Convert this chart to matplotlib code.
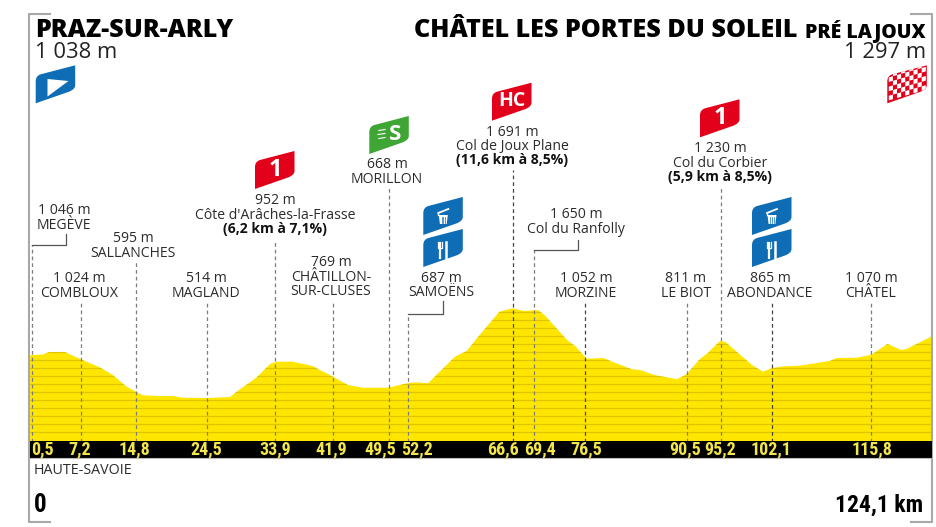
import numpy as np
import matplotlib
matplotlib.use("Agg")
import matplotlib.pyplot as plt
import matplotlib.font_manager as fm
from matplotlib.patches import PathPatch, Polygon, Rectangle
from matplotlib.path import Path

# ---------- data ----------
PROFILE_KM = [0.0, 0.3, 2.0, 2.9, 5.0, 7.1, 9.8, 11.6, 13.5, 14.6, 15.7, 18.0, 19.8, 21.2, 24.4, 27.7,
              28.6, 31.3, 33.2, 34.1, 36.3, 39.1, 40.0, 41.6, 43.9, 45.9, 49.4, 52.1, 53.1, 54.9, 55.8,
              58.6, 60.2, 61.6, 64.7, 66.5, 68.0, 70.0, 70.9, 74.0, 75.1, 76.7, 79.0, 80.3, 82.9, 84.0,
              86.0, 89.1, 90.4, 92.2, 93.3, 95.0, 95.7, 99.4, 100.9, 102.1, 103.6, 105.9, 110.1, 111.0,
              113.8, 115.8, 118.0, 119.9, 120.6, 124.1]
PROFILE_ALT = [1060, 1062, 1072, 1105, 1105, 1012, 902, 800, 646, 589, 532, 523, 523, 500, 496, 509,
               579, 765, 946, 976, 976, 919, 867, 791, 668, 632, 632, 691, 704, 691, 778,
               1043, 1118, 1286, 1638, 1683, 1647, 1660, 1594, 1263, 1184, 1016, 1025, 972, 876, 867,
               800, 744, 810, 1008, 1091, 1250, 1241, 933, 844, 889, 915, 923, 986, 1025,
               1029, 1069, 1211, 1131, 1144, 1312]
STOP_KM = [0.5, 7.2, 14.8, 24.5, 33.9, 41.9, 49.5, 52.2, 66.6, 69.4, 76.5, 90.5, 95.2, 102.1, 115.8]
STOP_KM_LABEL = ["0,5", "7,2", "14,8", "24,5", "33,9", "41,9", "49,5", "52,2", "66,6", "69,4", "76,5",
                 "90,5", "95,2", "102,1", "115,8"]
STOP_TEXT = [["1 046 m", "MEGÈVE"], ["1 024 m", "COMBLOUX"], ["595 m", "SALLANCHES"], ["514 m", "MAGLAND"],
             ["952 m", "Côte d'Arâches-la-Frasse", "(6,2 km à 7,1%)"], ["769 m", "CHÂTILLON-", "SUR-CLUSES"],
             ["668 m", "MORILLON"], ["687 m", "SAMOËNS"], ["1 691 m", "Col de Joux Plane", "(11,6 km à 8,5%)"],
             ["1 650 m", "Col du Ranfolly"], ["1 052 m", "MORZINE"], ["811 m", "LE BIOT"],
             ["1 230 m", "Col du Corbier", "(5,9 km à 8,5%)"], ["865 m", "ABONDANCE"], ["1 070 m", "CHÂTEL"]]
START_NAME, START_ALT = "PRAZ-SUR-ARLY", "1 038 m"
FINISH_NAME, FINISH_SUB, FINISH_ALT = "CHÂTEL LES PORTES DU SOLEIL", "PRÉ LAJOUX", "1 297 m"
REGION = "HAUTE-SAVOIE"
DIST_START, DIST_END = "0", "124,1 km"

# ---------- layout (pixel placement, separate from the data) ----------
W, H = 937, 527
X0, XS = 28.4, 7.28       # pixel of km 0, pixels per km
Y0, YS = 435.5, 0.0756    # pixel of 0 m, pixels per metre
def alt_of(py): return (Y0 - py) / YS
def km_of(px): return (px - X0) / XS

TEXT_X = [64, 79, 133, 206, 275, 331, 387, 441, 512, 576, 586, 686, 720, 770, 871]
TEXT_Y = [211, 279, 239, 279, 201, 263, 165, 278, 132, 215, 279, 279, 149, 279, 279]
LINE_TOP = [245, 302, 260, 302, 240, 302, 188, 314, 170, 250, 302, 302, 188, 302, 302]
KM_TEXT_X = [42.5, 80, 134.5, 206, 275, 331, 380, 417, 503, 540, 586, 685.5, 720.5, 771.5, 872]
DARK = {8, 10, 13}
LEADERS = {0: (66, 234), 7: (443, 301), 9: (578, 240)}

plt.rcParams["font.family"] = ["Open Sans", "DejaVu Sans"]
_names = {f.name for f in fm.fontManager.ttflist}
NARROW = [n for n in ("Roboto Condensed", "Open Sans Condensed", "Liberation Sans Narrow", "Roboto") if n in _names]
fig = plt.figure(figsize=(W / 100, H / 100), dpi=100, facecolor="white")

ax = fig.add_axes([0, 0, 1, 1])
ax.set_xlim(km_of(0), km_of(W))
ax.set_ylim(alt_of(H), alt_of(0))
ax.axis("off")

base = alt_of(442)
xs = [PROFILE_KM[0]] + PROFILE_KM + [PROFILE_KM[-1]]
ys = [base] + PROFILE_ALT + [base]
poly = ax.fill(xs, ys, color="#FFE600", lw=0, zorder=1)[0]
for a in np.arange(alt_of(432), alt_of(300), 8 / YS):
    ln, = ax.plot([0, 124.1], [a, a], color="#DFC400", lw=0.9, zorder=2)
    ln.set_clip_path(poly)

for i, km in enumerate(STOP_KM):
    col = "#444444" if i in DARK else "#7d7d7d"
    ax.plot([km, km], [base, alt_of(LINE_TOP[i])], color=col, lw=0.9, ls=(0, (3, 2.4)), zorder=3)
    if i in LEADERS:
        lx, ly = LEADERS[i]
        ax.plot([km, km_of(lx), km_of(lx)],
                [alt_of(LINE_TOP[i]), alt_of(LINE_TOP[i]), alt_of(ly)],
                color="#555555", lw=0.9, zorder=3)

ov = fig.add_axes([0, 0, 1, 1], facecolor="none")
ov.set_xlim(0, W)
ov.set_ylim(H, 0)
ov.axis("off")

# frame brackets
G = "#a8a8a8"
ov.plot([50, 29, 29, 50], [14, 14, 522, 522], color=G, lw=1.5, zorder=1)
ov.plot([911, 932, 932, 911], [14, 14, 522, 522], color=G, lw=1.5, zorder=1)

# black kilometre bar
ov.add_patch(Rectangle((30, 440.5), 902, 17.5, color="black", lw=0, zorder=4))
ov.plot([30, 932], [458.3, 458.3], color="#bbbbbb", lw=0.8, zorder=4)
for x, s in zip(KM_TEXT_X, STOP_KM_LABEL):
    ov.text(x, 449.7, s, family=NARROW, weight="bold", fontsize=13, color="#F3E64A",
            ha="center", va="center", zorder=5)

# stop texts
for i, lines in enumerate(STOP_TEXT):
    for j, s in enumerate(lines):
        bold = s.startswith("(")
        ov.text(TEXT_X[i], TEXT_Y[i] + j * 14.2, s, fontsize=10.1,
                weight="bold" if bold else "normal", color="#111111" if bold else "#2b2b2b",
                ha="center", va="center", zorder=5)

# titles
ov.text(35, 37, START_NAME, fontsize=18.1, weight=800, color="black", ha="left", va="baseline")
ov.text(35, 58.5, START_ALT, fontsize=15.8, color="#222222", ha="left", va="baseline")
ov.text(797, 37, FINISH_NAME, fontsize=18.1, weight=800, color="black", ha="right", va="baseline")
ov.text(926, 38, FINISH_SUB, fontsize=14, weight=800, color="black", ha="right", va="baseline")
ov.text(926, 58.5, FINISH_ALT, fontsize=15.8, color="#222222", ha="right", va="baseline")
ov.text(34, 470.5, REGION, fontsize=10.3, color="#2b2b2b", ha="left", va="center")
ov.text(34, 512, DIST_START, family=NARROW, weight="bold", fontsize=18, color="black", ha="left", va="baseline")
ov.text(923, 512, DIST_END, family=NARROW, weight="bold", fontsize=17, color="black", ha="right", va="baseline")

# badges: lower-left corner (x, y)
def badge(x, y, color, z=6):
    verts = [(x, y), (x, y - 22), (x, y - 27.5), (x + 5, y - 29), (x + 39.5, y - 38),
             (x + 39.5, y - 18), (x + 39.5, y - 14), (x + 33, y - 11.5), (x, y), (x, y)]
    codes = [Path.MOVETO, Path.LINETO, Path.CURVE3, Path.CURVE3, Path.LINETO,
             Path.LINETO, Path.CURVE3, Path.CURVE3, Path.LINETO, Path.CLOSEPOLY]
    p = PathPatch(Path(verts, codes), facecolor=color, edgecolor="none", zorder=z)
    ov.add_patch(p)
    return p

BLUE, RED, GREEN = "#0F6DB6", "#E2001A", "#3FA535"

# start flag
badge(35.7, 103.3, BLUE)
ov.add_patch(Polygon([(47.5, 79), (47.5, 96.5), (68.5, 81)], facecolor="white", edgecolor="none", zorder=7))

def badge_text(x, y, s, size):
    ov.text(x + 20, y - 19.5, s, weight="bold", fontsize=size, color="white",
            ha="center", va="center", zorder=7)

badge(255, 189, RED); badge_text(255, 189, "1", 17)
badge(700, 137.3, RED); badge_text(700, 137.3, "1", 17)
badge(492, 120.7, RED); badge_text(492, 120.7, "HC", 14)
badge(369.3, 154, GREEN); badge_text(375, 154, "S", 16)
for dy in (-4, 0, 4):
    ov.plot([378 + abs(dy) * 0.2, 385], [134.5 + dy, 134.5 + dy - 1.0], color="white", lw=0.8, zorder=7)

def bin_icon(x, y):
    cx, cy = x + 20, y - 18
    ov.add_patch(Polygon([(cx - 4.5, cy - 2), (cx + 4.5, cy - 2), (cx + 3.4, cy + 7), (cx - 3.4, cy + 7)],
                         facecolor="white", edgecolor="none", zorder=7))
    ov.plot([cx - 5, cx + 5], [cy - 4, cy - 8], color="white", lw=1.3, zorder=7)
    ov.plot([cx - 5, cx - 5], [cy - 4, cy - 2], color="white", lw=1.0, zorder=7)
    for d in (-1.7, 0, 1.7):
        ov.plot([cx + d, cx + d], [cy, cy + 5.5], color=BLUE, lw=0.5, zorder=8)

def fork_icon(x, y):
    cx, cy = x + 20, y - 18
    ov.plot([cx - 3, cx - 3], [cy - 6, cy + 9], color="white", lw=1.6, zorder=7)
    ov.plot([cx + 3.2, cx + 3.2], [cy - 7, cy + 9], color="white", lw=1.8, zorder=7)
    ov.plot([cx - 5, cx - 5, cx - 1, cx - 1], [cy - 7, cy - 1, cy - 1, cy - 7], color="white", lw=0.9, zorder=7)

for bx in (423.3, 752):
    badge(bx, 235, BLUE); bin_icon(bx, 235)
    badge(bx, 267, BLUE); fork_icon(bx, 267)

# finish flag (skewed checks, clipped to the badge)
fx, fy = 887.3, 103.3
clip = badge(fx, fy, RED)
n_c, n_r = 9, 6
cw = 37.0 / n_c
for c in range(n_c):
    for r in range(n_r):
        if (c + r) % 2 == 0:
            x0 = fx + 1.5 + c * cw
            y0 = fy - 2.5 - (x0 - fx) * 0.285 - r * 4.6
            sq = Polygon([(x0, y0), (x0 + cw, y0 - cw * 0.285), (x0 + cw, y0 - cw * 0.285 - 4.6), (x0, y0 - 4.6)],
                         facecolor="white", edgecolor="none", zorder=7)
            ov.add_patch(sq)
            sq.set_clip_path(clip)

fig.savefig("out.png", dpi=100, facecolor="white")
